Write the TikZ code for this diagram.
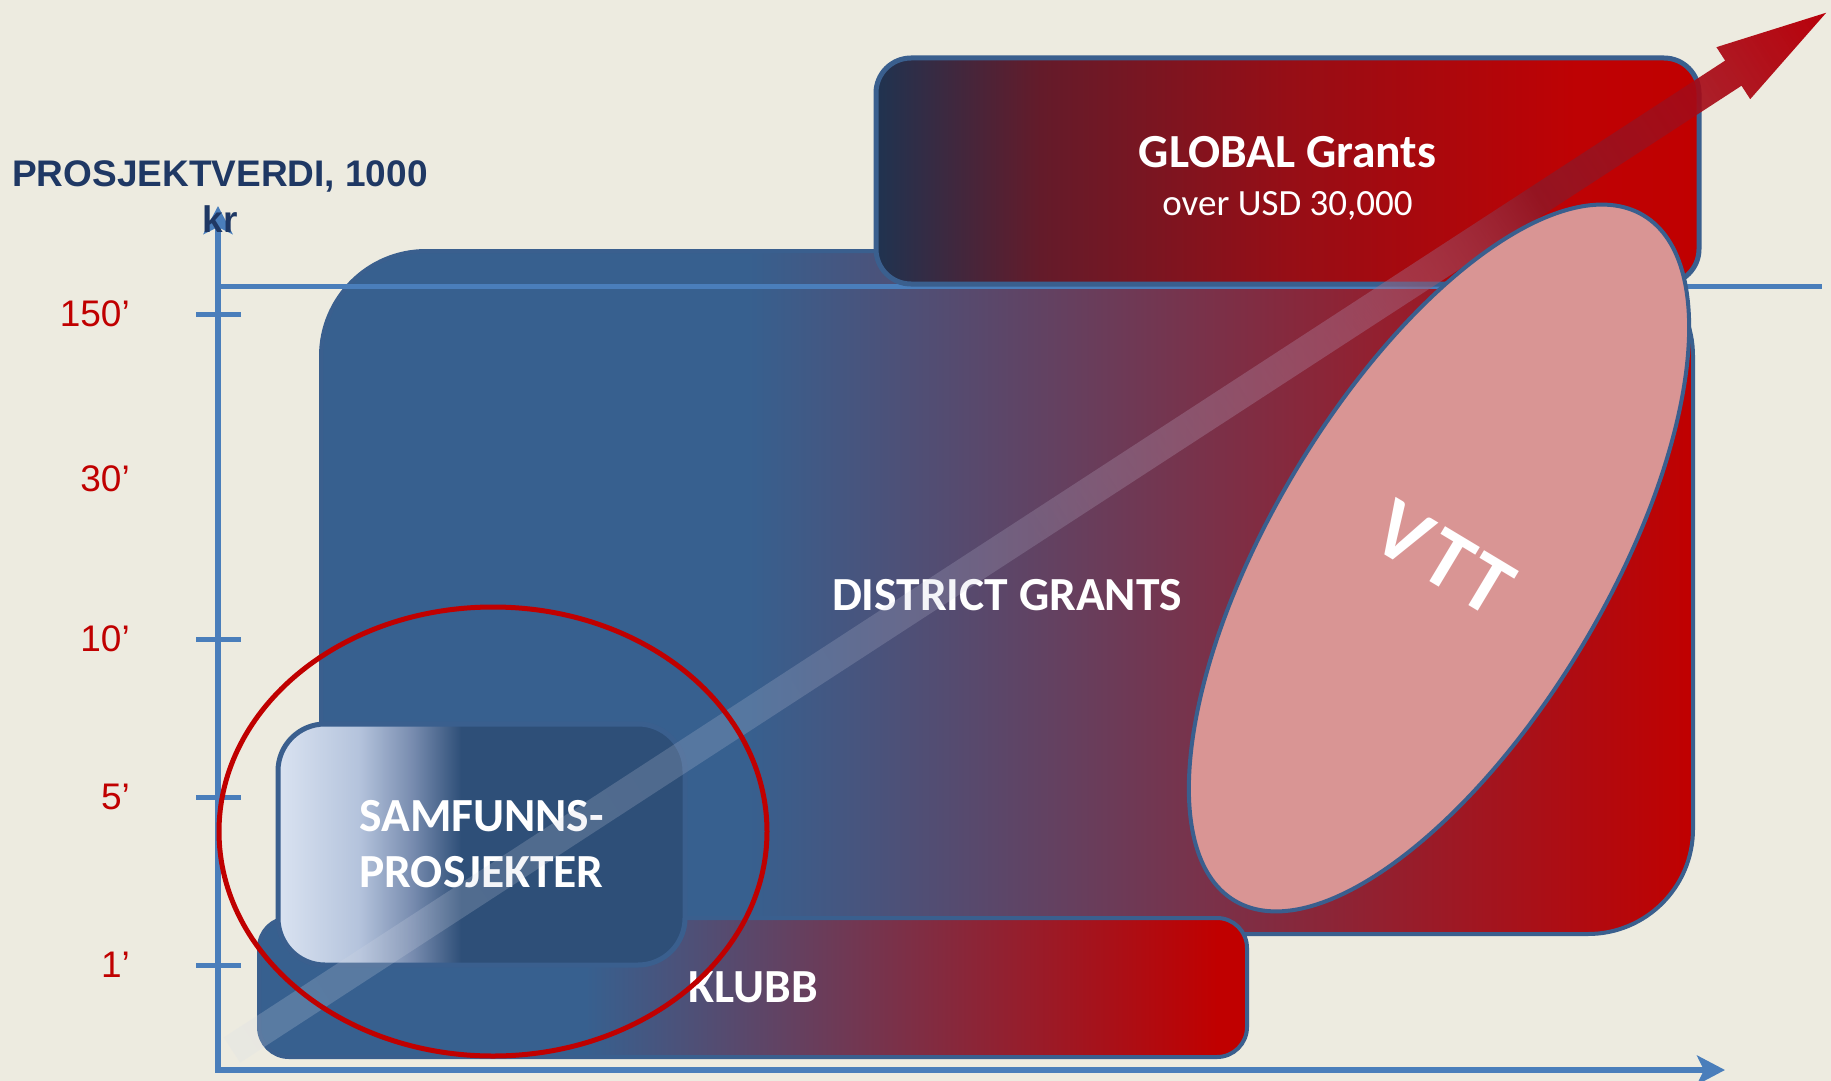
\documentclass[tikz,border=0pt]{standalone}
\usepackage{fontspec}
\newfontfamily\arialfont{Liberation Sans}
\newfontfamily\calfont{Carlito}
\usetikzlibrary{shapes.geometric, arrows.meta, fadings, positioning}

\definecolor{bgcream}{RGB}{237,235,224}
\definecolor{axisblue}{RGB}{74,126,187}
\definecolor{edgeblue}{RGB}{58,95,142}
\definecolor{boxblue}{RGB}{55,96,143}
\definecolor{boxred}{RGB}{192,0,0}
\definecolor{navy}{RGB}{31,51,80}
\definecolor{labelnavy}{RGB}{31,56,100}
\definecolor{vttpink}{RGB}{217,149,148}
\definecolor{samlight}{RGB}{218,227,241}
\definecolor{samdark}{RGB}{46,79,120}

% horizontal shadings, the box spans 25bp..75bp
\pgfdeclarehorizontalshading{districtshade}{100bp}{color(0bp)=(boxblue); color(40.5bp)=(boxblue); color(75bp)=(boxred); color(100bp)=(boxred)}
\pgfdeclarehorizontalshading{klubbshade}{100bp}{color(0bp)=(boxblue); color(41.5bp)=(boxblue); color(73.5bp)=(boxred); color(100bp)=(boxred)}
\pgfdeclarehorizontalshading{globalshade}{100bp}{color(0bp)=(navy); color(25bp)=(navy); color(35bp)=(rgb,255:red,100;green,27;blue,42); color(50bp)=(rgb,255:red,150;green,14;blue,22); color(67.5bp)=(rgb,255:red,190;green,2;blue,4); color(75bp)=(boxred); color(100bp)=(boxred)}
\pgfdeclarehorizontalshading{samshade}{100bp}{color(0bp)=(samlight); color(25bp)=(samlight); color(35bp)=(rgb,255:red,180;green,195;blue,220); color(41.5bp)=(rgb,255:red,120;green,140;blue,175); color(47.5bp)=(samdark); color(100bp)=(samdark)}
\pgfdeclarehorizontalshading{arrowshade}{100bp}{color(0bp)=(rgb,255:red,215;green,222;blue,232); color(25bp)=(rgb,255:red,215;green,222;blue,232); color(50bp)=(rgb,255:red,200;green,200;blue,222); color(60bp)=(rgb,255:red,175;green,130;blue,160); color(66bp)=(rgb,255:red,140;green,25;blue,40); color(75bp)=(rgb,255:red,185;green,0;blue,10); color(100bp)=(rgb,255:red,185;green,0;blue,10)}
\pgfdeclarehorizontalshading{arrowmask}{100bp}{color(0bp)=(black!78); color(25bp)=(black!78); color(50bp)=(black!80); color(60bp)=(black!62); color(66bp)=(black!20); color(75bp)=(black!0); color(100bp)=(black!0)}

\begin{tikzfadingfrompicture}[name=arrowfade]
  \shade[shading=arrowmask] (-25bp,-25bp) rectangle (25bp,25bp);
\end{tikzfadingfrompicture}

\begin{document}
\begin{tikzpicture}[x=1pt, y=-1pt,
    box/.style={rectangle, rounded corners=#1, draw=edgeblue, line width=4pt, inner sep=0pt, text=white, align=center, font=\calfont\bfseries\fontsize{47.5}{56}\selectfont},
    axis/.style={axisblue, line width=6pt, {Stealth[length=28pt, width=29pt, inset=7pt]}-{Stealth[length=28pt, width=29pt, inset=7pt]}},
    tickmark/.style={axisblue, line width=5pt},
    ticklabel/.style={anchor=east, inner sep=0pt, text=boxred, font=\arialfont\fontsize{37}{44}\selectfont},
    focus/.style={ellipse, draw=boxred, line width=5pt, inner sep=0pt}
]
    \fill[bgcream] (0,0) rectangle (1831,1081);
    \useasboundingbox (0,0) rectangle (1831,1081);

    \node[box=105pt, minimum width=1372pt, minimum height=683pt, shading=districtshade, text height=37pt] (district) at (1007,592.5) {DISTRICT GRANTS};
    \node[box=30pt, minimum width=988pt, minimum height=139pt, shading=klubbshade] (klubb) at (753,987.5) {KLUBB};
    \node[box=47pt, line width=5pt, minimum width=407pt, minimum height=241pt, shading=samshade, align=left] (samfunn) at (481.5,844.5) {SAMFUNNS-\\PROSJEKTER};

    \draw[axisblue, line width=5pt] (218,286) -- (1822,286);

    \node[box=35pt, line width=5pt, minimum width=823pt, minimum height=226pt, shading=globalshade, text height=93pt] (global) at (1287.5,171)
        {GLOBAL Grants\\[-8pt]{\mdseries\fontsize{37}{48}\selectfont over USD 30,000}};

    % big growth arrow
    \begin{scope}[transform canvas={shift={(232,1050)}, rotate=33.05}]
        \shade[shading=arrowshade, path fading=arrowfade]
            (0,-15) -- (1794,-15) -- (1794,-31) -- (1905,0) -- (1794,31) -- (1794,15) -- (0,15) -- cycle;
    \end{scope}

    \node[ellipse, draw=edgeblue, line width=4pt, fill=vttpink, inner sep=0pt, rotate=59.2, minimum width=798pt, minimum height=336pt] (vtt) at (1439,558) {};
    \node[rotate=-31, text=white, font=\calfont\bfseries\fontsize{85}{90}\selectfont] (vttlabel) at (1444,558) {V\kern6pt T\kern4pt T};

    % axes
    \coordinate (origin) at (218,1070);
    \coordinate (ytop) at (218,206);
    \coordinate (xend) at (1725,1070);
    \draw[axis] (ytop) -- (origin) -- (xend);
    \foreach \yy in {314,639,797,965}
        \draw[tickmark] (196,\yy) -- (241,\yy);

    \node[focus, minimum width=548pt, minimum height=449pt] (ring) at (493,831.5) {};

    \foreach \yy/\lab in {314/150,479/30,639/10,797/5,965/1}
        \node[ticklabel] (t\lab) at (130,\yy) {\lab’};
    \node[align=center, inner sep=0pt, text=labelnavy, font=\arialfont\bfseries\fontsize{37}{46}\selectfont] (ytitle) at (220,197) {PROSJEKTVERDI, 1000\\kr};
\end{tikzpicture}
\end{document}
